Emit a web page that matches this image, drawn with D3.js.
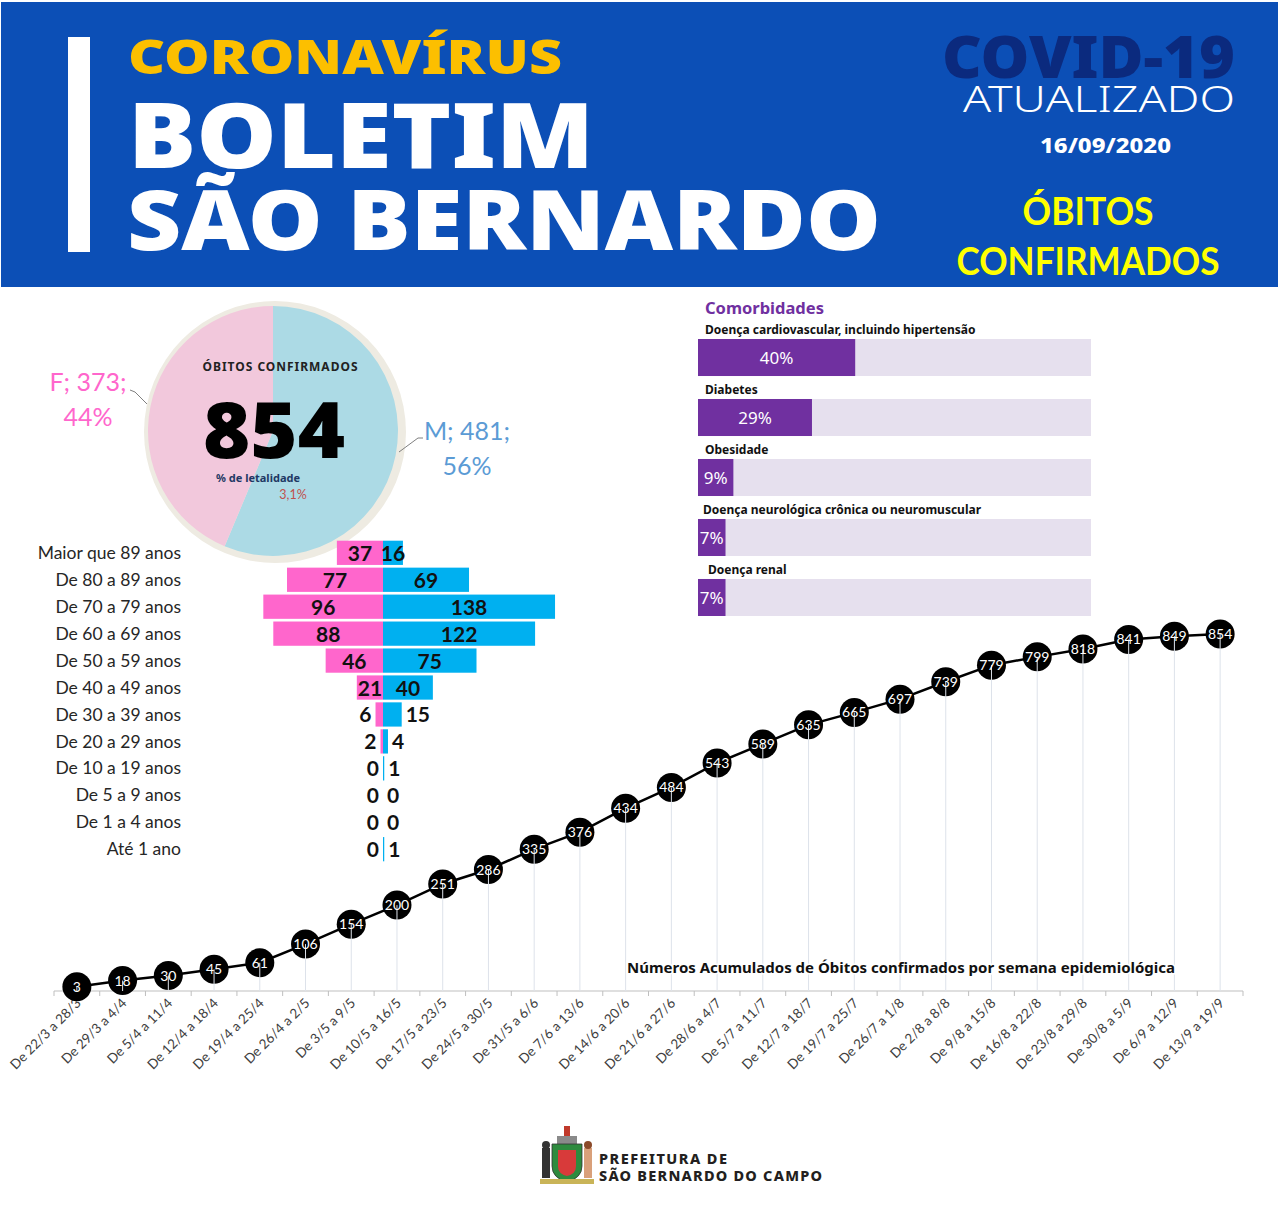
<!DOCTYPE html>
<html>
<head>
<meta charset="utf-8">
<script src="https://cdn.jsdelivr.net/npm/d3@7"></script>
<style>
  body { margin: 0; background: #fff; }
  svg { display: block; }
</style>
</head>
<body>
<svg id="chart" width="1280" height="1224"></svg>
<script>
var semanas = ["De 22/3 a 28/3", "De 29/3 a 4/4", "De 5/4 a 11/4", "De 12/4 a 18/4", "De 19/4 a 25/4",
  "De 26/4 a 2/5", "De 3/5 a 9/5", "De 10/5 a 16/5", "De 17/5 a 23/5", "De 24/5 a 30/5",
  "De 31/5 a 6/6", "De 7/6 a 13/6", "De 14/6 a 20/6", "De 21/6 a 27/6", "De 28/6 a 4/7",
  "De 5/7 a 11/7", "De 12/7 a 18/7", "De 19/7 a 25/7", "De 26/7 a 1/8", "De 2/8 a 8/8",
  "De 9/8 a 15/8", "De 16/8 a 22/8", "De 23/8 a 29/8", "De 30/8 a 5/9", "De 6/9 a 12/9",
  "De 13/9 a 19/9"];
var obitosAcumulados = [3, 18, 30, 45, 61, 106, 154, 200, 251, 286, 335, 376, 434, 484, 543,
  589, 635, 665, 697, 739, 779, 799, 818, 841, 849, 854];

var faixas = ["Maior que 89 anos", "De 80 a 89 anos", "De 70 a 79 anos", "De 60 a 69 anos",
  "De 50 a 59 anos", "De 40 a 49 anos", "De 30 a 39 anos", "De 20 a 29 anos",
  "De 10 a 19 anos", "De 5 a 9 anos", "De 1 a 4 anos", "Até 1 ano"];
var feminino = [37, 77, 96, 88, 46, 21, 6, 2, 0, 0, 0, 0];
var masculino = [16, 69, 138, 122, 75, 40, 15, 4, 1, 0, 0, 1];

var sexos = ["M", "F"];
var sexoObitos = [481, 373];
var sexoPct = ["56%", "44%"];

var comorbidades = ["Doença cardiovascular, incluindo hipertensão", "Diabetes", "Obesidade",
  "Doença neurológica crônica ou neuromuscular", "Doença renal"];
var comorbPct = [40, 29, 9, 7, 7];

var totalObitos = 854;
var letalidade = "3,1%";

var svg = d3.select("#chart");

//CABEÇALHO
var head = svg.append("g");
head.append("rect").attr("x", 1).attr("y", 2).attr("width", 1277).attr("height", 285).attr("fill", "#0c4fb6");
head.append("rect").attr("x", 68).attr("y", 37).attr("width", 22).attr("height", 215).attr("fill", "#fff");

function headText(t, x, y, size, weight, color, len, anchor) {
  var el = head.append("text").attr("x", x).attr("y", y).text(t)
    .attr("font-family", "'Noto Sans', 'DejaVu Sans', sans-serif")
    .attr("font-size", size).attr("font-weight", weight).attr("fill", color)
    .attr("text-anchor", anchor || "start");
  if (len) el.attr("textLength", len).attr("lengthAdjust", "spacingAndGlyphs");
  return el;
}
headText("CORONAVÍRUS", 128, 74, 47, 900, "#fcbf00", 434);
headText("BOLETIM", 128, 168, 90, 900, "#fff", 466);
headText("SÃO BERNARDO", 127, 250, 84, 900, "#fff", 754);
headText("COVID-19", 942, 78, 58, 900, "#0b2a7e", 293);
headText("ATUALIZADO", 963, 112, 36, 300, "#fff", 272);
headText("16/09/2020", 1040, 153, 21, 800, "#fff", 131);
headText("ÓBITOS", 1088, 225, 38, 700, "#ffff00", 131, "middle").attr("font-family", "Lato, 'Open Sans', sans-serif");
headText("CONFIRMADOS", 1088, 275, 38, 700, "#ffff00", 263, "middle").attr("font-family", "Lato, 'Open Sans', sans-serif");

//GRÁFICO DE LINHA - ACUMULADO POR SEMANA
var x = d3.scaleBand().domain(semanas).range([54, 1243]);
var y = d3.scaleLinear().domain([0, 900]).range([988, 615]);
var axisY = 991;

var lineG = svg.append("g");
lineG.append("line").attr("x1", x.range()[0]).attr("x2", x.range()[1])
  .attr("y1", axisY).attr("y2", axisY).attr("stroke", "#bfbfbf").attr("stroke-width", 1);
var fronteiras = semanas.map(function (s) { return x(s); }).concat([x.range()[1]]);
lineG.selectAll(".tick").data(fronteiras).enter().append("line")
  .attr("x1", function (d) { return d; }).attr("x2", function (d) { return d; })
  .attr("y1", axisY).attr("y2", axisY + 5).attr("stroke", "#bfbfbf");
lineG.selectAll(".xlab").data(semanas).enter().append("text")
  .attr("transform", function (d) {
    return "translate(" + (x(d) + x.bandwidth() / 2 + 5) + "," + (axisY + 13) + ") rotate(-45)";
  })
  .attr("text-anchor", "end")
  .attr("font-family", "Lato, 'Open Sans', sans-serif").attr("font-size", 13.5).attr("fill", "#404040")
  .text(function (d) { return d; });

var pontos = semanas.map(function (s, i) { return { s: s, v: obitosAcumulados[i] }; });
var cx = function (d) { return x(d.s) + x.bandwidth() / 2; };
var linha = d3.line().x(cx).y(function (d) { return y(d.v); });
lineG.append("path").datum(pontos).attr("d", linha)
  .attr("fill", "none").attr("stroke", "#000").attr("stroke-width", 2.5);
lineG.selectAll(".pt").data(pontos).enter().append("circle")
  .attr("cx", cx).attr("cy", function (d) { return y(d.v); }).attr("r", 14.5).attr("fill", "#000");
lineG.selectAll(".drop").data(pontos).enter().append("line")
  .attr("x1", cx).attr("x2", cx).attr("y1", function (d) { return y(d.v); }).attr("y2", axisY)
  .attr("stroke", "#dde2ea").attr("stroke-width", 1);
lineG.selectAll(".ptlab").data(pontos).enter().append("text")
  .attr("x", cx).attr("y", function (d) { return y(d.v); }).attr("dy", "0.36em")
  .attr("text-anchor", "middle").attr("font-family", "Lato, 'Open Sans', sans-serif")
  .attr("font-size", 14).attr("fill", "#fff")
  .text(function (d) { return d.v; });
lineG.append("text").attr("x", 627).attr("y", 973)
  .attr("font-family", "'Noto Sans', sans-serif").attr("font-size", 13.5).attr("font-weight", 700)
  .attr("fill", "#111").attr("textLength", 548).attr("lengthAdjust", "spacingAndGlyphs")
  .attr("stroke", "#fff").attr("stroke-width", 3).attr("paint-order", "stroke")
  .text("Números Acumulados de Óbitos confirmados por semana epidemiológica");

//PIZZA POR SEXO
var pieG = svg.append("g").attr("transform", "translate(273,431)");
pieG.append("circle").attr("cx", 2).attr("cy", 1).attr("r", 131).attr("fill", "#eeebe2");
var pie = d3.pie().sort(null).value(function (d) { return d; });
var arc = d3.arc().innerRadius(0).outerRadius(125);
var coresPie = ["#acdae5", "#f2c8dc"];
pieG.selectAll(".fatia").data(pie(sexoObitos)).enter().append("path")
  .attr("d", arc).attr("fill", function (d, i) { return coresPie[i]; });

pieG.append("text").attr("x", 7).attr("y", -60).attr("text-anchor", "middle")
  .attr("font-family", "'Noto Sans', sans-serif").attr("font-size", 12).attr("font-weight", 700)
  .attr("fill", "#222").attr("textLength", 155).text("ÓBITOS CONFIRMADOS");
pieG.append("text").attr("x", 1).attr("y", 27).attr("text-anchor", "middle")
  .attr("font-family", "'Noto Sans', sans-serif").attr("font-size", 78).attr("font-weight", 900)
  .attr("fill", "#000").attr("textLength", 142).attr("lengthAdjust", "spacingAndGlyphs").text(totalObitos);
pieG.append("text").attr("x", -15).attr("y", 51).attr("text-anchor", "middle")
  .attr("font-family", "'Noto Sans', sans-serif").attr("font-size", 11).attr("font-weight", 700)
  .attr("fill", "#1f3864").text("% de letalidade");
pieG.append("text").attr("x", 20).attr("y", 68).attr("text-anchor", "middle")
  .attr("font-family", "Lato, sans-serif").attr("font-size", 12.5)
  .attr("fill", "#c0504d").text(letalidade);

var coresSexoTxt = ["#5b9bd5", "#ff66cc"];
var rotulos = [{ x: 467, y: 440, i: 0 }, { x: 88, y: 391, i: 1 }];
rotulos.forEach(function (r) {
  var t = svg.append("text").attr("x", r.x).attr("y", r.y).attr("text-anchor", "middle")
    .attr("font-family", "Lato, 'Open Sans', sans-serif").attr("font-size", 25)
    .attr("fill", coresSexoTxt[r.i]);
  t.append("tspan").attr("x", r.x).text(sexos[r.i] + "; " + sexoObitos[r.i] + ";");
  t.append("tspan").attr("x", r.x).attr("dy", 35).text(sexoPct[r.i]);
});
svg.append("polyline").attr("points", "130,390 135,392 147,404")
  .attr("fill", "none").attr("stroke", "#7f7f7f").attr("stroke-width", 1);
svg.append("polyline").attr("points", "423,438 418,438 399,452")
  .attr("fill", "none").attr("stroke", "#7f7f7f").attr("stroke-width", 1);

//PIRÂMIDE ETÁRIA
var centro = 383;
var yb = d3.scaleBand().domain(faixas).range([538, 864]).padding(0.1);
var xb = d3.scaleLinear().domain([0, 150]).range([0, 187]);
var pirG = svg.append("g");

pirG.selectAll(".faixa").data(faixas).enter().append("text")
  .attr("x", 181).attr("y", function (d) { return yb(d) + yb.bandwidth() / 2; }).attr("dy", "0.35em")
  .attr("text-anchor", "end").attr("font-family", "Lato, 'Open Sans', sans-serif")
  .attr("font-size", 17.5).attr("fill", "#262626").text(function (d) { return d; });

pirG.selectAll(".fem").data(feminino).enter().append("rect")
  .attr("x", function (d) { return centro - xb(d); }).attr("y", function (d, i) { return yb(faixas[i]); })
  .attr("width", function (d) { return xb(d); }).attr("height", yb.bandwidth()).attr("fill", "#ff66cc");
pirG.selectAll(".masc").data(masculino).enter().append("rect")
  .attr("x", centro).attr("y", function (d, i) { return yb(faixas[i]); })
  .attr("width", function (d) { return xb(d); }).attr("height", yb.bandwidth()).attr("fill", "#00b0f0");

function valorLabel(data, lado) {
  pirG.selectAll(".v" + lado).data(data).enter().append("text")
    .attr("x", function (d) {
      var w = xb(d);
      if (w >= 19) return centro + lado * w / 2;
      return centro + lado * (w + 4);
    })
    .attr("text-anchor", function (d) { return xb(d) >= 19 ? "middle" : (lado < 0 ? "end" : "start"); })
    .attr("y", function (d, i) { return yb(faixas[i]) + yb.bandwidth() / 2; }).attr("dy", "0.38em")
    .attr("font-family", "Lato, 'Open Sans', sans-serif").attr("font-size", 21).attr("font-weight", 700)
    .attr("fill", "#111").text(function (d) { return d; });
}
valorLabel(feminino, -1);
valorLabel(masculino, 1);

//COMORBIDADES
var cg = svg.append("g");
var xc = d3.scaleLinear().domain([0, 100]).range([0, 393]);
var yc = d3.scaleBand().domain(comorbidades).range([339, 616]).paddingInner(0.383).paddingOuter(0);
cg.append("text").attr("x", 705).attr("y", 314).attr("font-family", "'Noto Sans', sans-serif")
  .attr("font-size", 16.5).attr("font-weight", 700).attr("fill", "#7030a0").text("Comorbidades");
cg.selectAll(".fundo").data(comorbidades).enter().append("rect")
  .attr("x", 698).attr("y", function (d) { return yc(d); }).attr("width", xc(100))
  .attr("height", yc.bandwidth()).attr("fill", "#e6e0ee");
cg.selectAll(".barra").data(comorbPct).enter().append("rect")
  .attr("x", 698).attr("y", function (d, i) { return yc(comorbidades[i]); }).attr("width", function (d) { return xc(d); })
  .attr("height", yc.bandwidth()).attr("fill", "#7030a0");
var nomeX = [705, 705, 705, 703, 708];
cg.selectAll(".nome").data(comorbidades).enter().append("text")
  .attr("x", function (d, i) { return nomeX[i]; }).attr("y", function (d) { return yc(d) - 5; })
  .attr("font-family", "'Noto Sans', sans-serif").attr("font-size", 12).attr("font-weight", 700)
  .attr("fill", "#111").text(function (d) { return d; });
cg.selectAll(".pct").data(comorbPct).enter().append("text")
  .attr("x", function (d) { return 698 + xc(d) / 2; })
  .attr("y", function (d, i) { return yc(comorbidades[i]) + yc.bandwidth() / 2; }).attr("dy", "0.36em")
  .attr("text-anchor", "middle").attr("font-family", "'Noto Sans', sans-serif")
  .attr("font-size", 17).attr("fill", "#fff").text(function (d) { return d + "%"; });

//RODAPÉ - BRASÃO E PREFEITURA
var logo = svg.append("g").attr("transform", "translate(540,1126)");
logo.append("rect").attr("x", 24).attr("y", 0).attr("width", 6).attr("height", 12).attr("fill", "#c0392b");
logo.append("rect").attr("x", 17).attr("y", 10).attr("width", 20).attr("height", 8).attr("fill", "#8a8a8a");
logo.append("path").attr("d", "M12,18 H42 V40 Q42,52 27,56 Q12,52 12,40 Z").attr("fill", "#2e8b3e").attr("stroke", "#333").attr("stroke-width", 0.8);
logo.append("path").attr("d", "M18,24 H36 V40 Q36,48 27,50 Q18,48 18,40 Z").attr("fill", "#d83a3a");
logo.append("path").attr("d", "M2,22 h8 v30 h-8 z").attr("fill", "#333");
logo.append("circle").attr("cx", 6).attr("cy", 19).attr("r", 4).attr("fill", "#333");
logo.append("path").attr("d", "M44,22 h8 v30 h-8 z").attr("fill", "#d9a07a");
logo.append("circle").attr("cx", 48).attr("cy", 19).attr("r", 4).attr("fill", "#8b4a2a");
logo.append("rect").attr("x", 0).attr("y", 53).attr("width", 54).attr("height", 5).attr("fill", "#c9b458");

var pref = svg.append("text").attr("font-family", "'Noto Sans', sans-serif").attr("font-weight", 800)
  .attr("font-size", 14.5).attr("fill", "#231f20");
pref.append("tspan").attr("x", 599).attr("y", 1164).attr("textLength", 128).text("PREFEITURA DE");
pref.append("tspan").attr("x", 599).attr("y", 1181).attr("textLength", 223).text("SÃO BERNARDO DO CAMPO");
</script>
</body>
</html>
